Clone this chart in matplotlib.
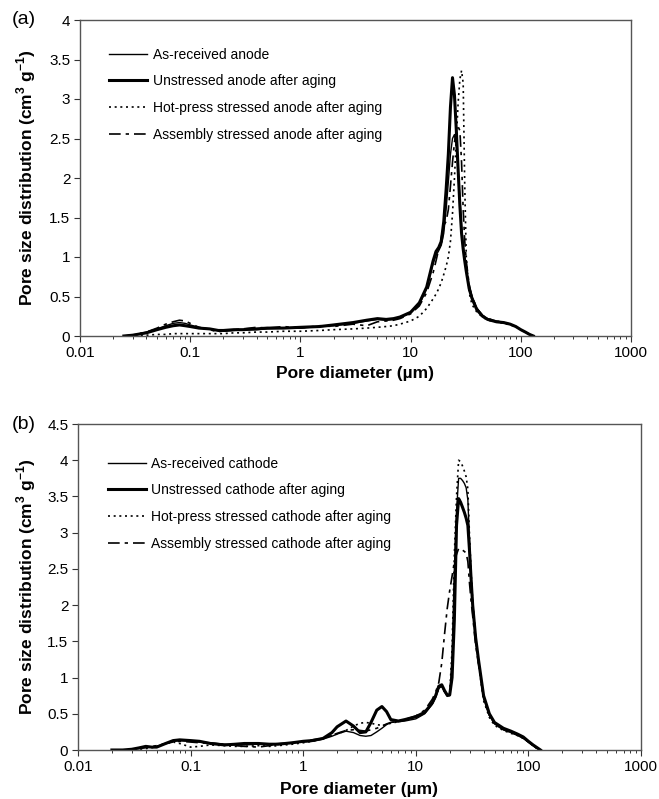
import matplotlib
matplotlib.use("Agg")
import matplotlib.pyplot as plt
from matplotlib.ticker import FuncFormatter, LogLocator, NullFormatter, MultipleLocator

plt.rcParams['font.family'] = ['Liberation Sans', 'DejaVu Sans']

# ---------------- Panel (a): anode ----------------
xa = [0.025, 0.03, 0.04, 0.05, 0.06, 0.07, 0.08, 0.09, 0.1, 0.12, 0.15, 0.18, 0.2, 0.25,
      0.3, 0.4, 0.5, 0.7, 1, 1.5, 2, 3, 4, 5, 6, 7, 8, 10, 12, 14, 16, 17, 18, 19, 20, 21,
      22, 23, 24, 25, 26, 27, 28, 29, 30, 31, 32, 34, 36, 40, 45, 50, 60, 70, 80, 90, 100,
      110, 120, 130]
a_asreceived = [0, 0.01, 0.05, 0.09, 0.13, 0.16, 0.17, 0.16, 0.14, 0.11, 0.09, 0.07, 0.06, 0.07,
                0.08, 0.08, 0.09, 0.10, 0.10, 0.12, 0.13, 0.16, 0.19, 0.21, 0.20, 0.21, 0.23, 0.29,
                0.40, 0.60, 0.92, 1.02, 1.08, 1.15, 1.30, 1.60, 1.95, 2.30, 2.50, 2.55, 2.40, 2.10,
                1.75, 1.40, 1.15, 1.00, 0.86, 0.63, 0.50, 0.35, 0.26, 0.22, 0.19, 0.17, 0.15, 0.12,
                0.08, 0.05, 0.02, 0]
a_unstressed = [0, 0.01, 0.04, 0.08, 0.11, 0.13, 0.14, 0.13, 0.12, 0.10, 0.09, 0.07, 0.07, 0.08,
                0.08, 0.09, 0.10, 0.10, 0.11, 0.12, 0.14, 0.17, 0.20, 0.22, 0.21, 0.22, 0.24, 0.30,
                0.42, 0.62, 0.95, 1.07, 1.12, 1.20, 1.45, 1.85, 2.30, 2.90, 3.27, 3.05, 2.60, 2.10,
                1.65, 1.30, 1.10, 0.95, 0.82, 0.60, 0.48, 0.33, 0.25, 0.21, 0.18, 0.17, 0.15, 0.12,
                0.08, 0.05, 0.02, 0]
a_hotpress = [0, 0, 0.01, 0.02, 0.02, 0.03, 0.03, 0.03, 0.03, 0.03, 0.03, 0.03, 0.03, 0.04,
              0.04, 0.05, 0.05, 0.06, 0.06, 0.07, 0.08, 0.09, 0.10, 0.11, 0.12, 0.13, 0.15, 0.19,
              0.25, 0.35, 0.47, 0.53, 0.60, 0.68, 0.78, 0.88, 1.00, 1.20, 1.55, 2.00, 2.50, 2.95,
              3.25, 3.36, 3.20, 1.90, 1.00, 0.55, 0.40, 0.30, 0.24, 0.20, 0.18, 0.16, 0.14, 0.12,
              0.08, 0.05, 0.02, 0]
a_assembly = [0, 0.01, 0.05, 0.10, 0.15, 0.18, 0.20, 0.19, 0.16, 0.11, 0.08, 0.05, 0.07, 0.08,
              0.09, 0.11, 0.10, 0.12, 0.10, 0.13, 0.12, 0.15, 0.13, 0.18, 0.19, 0.20, 0.22, 0.28,
              0.38, 0.55, 0.80, 0.95, 1.10, 1.25, 1.40, 1.45, 1.60, 1.90, 2.20, 2.45, 2.60, 2.65,
              2.60, 2.20, 1.60, 1.20, 0.95, 0.65, 0.50, 0.35, 0.26, 0.22, 0.19, 0.17, 0.15, 0.12,
              0.08, 0.05, 0.02, 0]
labels_a = ["As-received anode", "Unstressed anode after aging",
            "Hot-press stressed anode after aging", "Assembly stressed anode after aging"]

# ---------------- Panel (b): cathode ----------------
xb = [0.02, 0.025, 0.03, 0.035, 0.04, 0.045, 0.05, 0.06, 0.07, 0.08, 0.1, 0.12, 0.15, 0.2,
      0.25, 0.3, 0.4, 0.5, 0.6, 0.8, 1, 1.2, 1.5, 1.8, 2, 2.4, 2.8, 3.2, 3.6, 4, 4.5, 5, 5.5,
      6, 7, 8, 10, 12, 14, 15, 16, 17, 18, 19, 20, 21, 22, 23, 24, 25, 26, 27, 28, 29, 30, 31,
      32, 34, 36, 40, 45, 50, 60, 70, 80, 90, 100, 110, 120, 128]
b_asreceived = [0, 0, 0.01, 0.02, 0.03, 0.04, 0.05, 0.09, 0.12, 0.13, 0.12, 0.11, 0.10, 0.08,
                0.07, 0.07, 0.08, 0.08, 0.09, 0.10, 0.11, 0.12, 0.15, 0.19, 0.22, 0.26, 0.24, 0.20,
                0.19, 0.20, 0.25, 0.30, 0.35, 0.38, 0.39, 0.40, 0.43, 0.50, 0.63, 0.72, 0.85, 0.88,
                0.80, 0.74, 0.75, 1.30, 2.50, 3.30, 3.75, 3.75, 3.72, 3.68, 3.62, 3.45, 2.90, 2.40,
                2.05, 1.55, 1.25, 0.72, 0.48, 0.36, 0.28, 0.24, 0.20, 0.16, 0.11, 0.06, 0.02, 0]
b_unstressed = [0, 0, 0.01, 0.03, 0.05, 0.04, 0.04, 0.09, 0.13, 0.14, 0.13, 0.12, 0.09, 0.07,
                0.08, 0.09, 0.09, 0.08, 0.08, 0.10, 0.12, 0.13, 0.16, 0.24, 0.32, 0.40, 0.33, 0.24,
                0.25, 0.38, 0.55, 0.60, 0.53, 0.42, 0.40, 0.42, 0.46, 0.52, 0.65, 0.75, 0.88, 0.90,
                0.82, 0.76, 0.76, 1.00, 1.80, 3.10, 3.47, 3.42, 3.35, 3.28, 3.20, 3.10, 2.75, 2.35,
                2.00, 1.55, 1.25, 0.75, 0.50, 0.38, 0.30, 0.26, 0.22, 0.18, 0.12, 0.07, 0.03, 0]
b_hotpress = [0, 0, 0, 0.01, 0.02, 0.03, 0.05, 0.09, 0.11, 0.09, 0.04, 0.05, 0.07, 0.06,
              0.05, 0.05, 0.06, 0.05, 0.06, 0.08, 0.10, 0.12, 0.16, 0.20, 0.22, 0.27, 0.33, 0.37,
              0.38, 0.37, 0.35, 0.34, 0.35, 0.37, 0.39, 0.41, 0.45, 0.52, 0.65, 0.74, 0.85, 0.88,
              0.80, 0.75, 0.77, 1.40, 2.70, 3.50, 4.00, 3.98, 3.92, 3.85, 3.77, 3.60, 2.95, 2.45,
              2.05, 1.55, 1.20, 0.68, 0.45, 0.34, 0.27, 0.23, 0.20, 0.16, 0.11, 0.06, 0.02, 0]
b_assembly = [0, 0, 0.01, 0.03, 0.04, 0.05, 0.06, 0.09, 0.11, 0.12, 0.11, 0.10, 0.09, 0.08,
              0.06, 0.05, 0.04, 0.06, 0.08, 0.10, 0.12, 0.14, 0.16, 0.20, 0.23, 0.27, 0.28, 0.27,
              0.26, 0.28, 0.30, 0.33, 0.36, 0.38, 0.40, 0.42, 0.47, 0.55, 0.70, 0.80, 0.93, 1.20,
              1.60, 1.95, 2.20, 2.40, 2.60, 2.70, 2.78, 2.78, 2.76, 2.74, 2.72, 2.60, 2.30, 2.05,
              1.85, 1.45, 1.20, 0.72, 0.48, 0.36, 0.28, 0.24, 0.21, 0.17, 0.11, 0.06, 0.02, 0]
labels_b = ["As-received cathode", "Unstressed cathode after aging",
            "Hot-press stressed cathode after aging", "Assembly stressed cathode after aging"]

x_ticks = [0.01, 0.1, 1, 10, 100, 1000]
x_ticklabels = ["0.01", "0.1", "1", "10", "100", "1000"]

styles = [dict(color='black', lw=1.0, ls='-'),
          dict(color='black', lw=2.2, ls='-'),
          dict(color='black', lw=1.2, ls=(0, (1.2, 2.2))),
          dict(color='black', lw=1.2, ls=(0, (7, 3, 2, 3)))]

fig = plt.figure(figsize=(6.59, 7.99), dpi=100)
ax_a = fig.add_axes([80/659, 1-336/799, 551/659, 316/799])
ax_b = fig.add_axes([78/659, 1-750/799, 563/659, 326/799])

def style_axes(ax, ymax, xlabel_y, ylab_x):
    ax.set_xscale('log')
    ax.set_xlim(0.01, 1000)
    ax.set_ylim(0, ymax)
    ax.set_xticks(x_ticks)
    ax.set_xticklabels(x_ticklabels)
    ax.xaxis.set_minor_locator(LogLocator(base=10, subs=range(2, 10), numticks=50))
    ax.xaxis.set_minor_formatter(NullFormatter())
    ax.yaxis.set_major_locator(MultipleLocator(0.5))
    ax.yaxis.set_major_formatter(FuncFormatter(lambda v, p: f"{v:g}"))
    ax.tick_params(axis='both', which='major', direction='out', length=4, width=0.8,
                   labelsize=11, colors='#333333', labelcolor='black', pad=3)
    ax.tick_params(axis='x', which='minor', direction='out', length=2.5, width=0.7, colors='#333333')
    for s in ax.spines.values():
        s.set_color('#555555')
        s.set_linewidth(1.0)
    ax.set_xlabel("Pore diameter (µm)", fontsize=12.5, fontweight='bold')
    ax.xaxis.set_label_coords(0.5, xlabel_y)
    ax.set_ylabel("Pore size distribution (cm$^{\\mathregular{3}}$ g$^{\\mathregular{-1}}$)",
                  fontsize=12.5, fontweight='bold')
    ax.yaxis.set_label_coords(ylab_x, 0.5)

series_a = [a_asreceived, a_unstressed, a_hotpress, a_assembly]
for ys, st, lab in zip(series_a, styles, labels_a):
    ax_a.plot(xa, ys, label=lab, **st)
series_b = [b_asreceived, b_unstressed, b_hotpress, b_assembly]
for ys, st, lab in zip(series_b, styles, labels_b):
    ax_b.plot(xb, ys, label=lab, **st)

style_axes(ax_a, 4, -0.094, -0.077)
style_axes(ax_b, 4.5, -0.098, -0.071)

for ax, anchor in ((ax_a, (0.043, 0.93)), (ax_b, (0.043, 0.917))):
    ax.legend(loc='upper left', bbox_to_anchor=anchor, frameon=False, fontsize=10,
              handlelength=2.75, handletextpad=0.38, labelspacing=0.91, borderaxespad=0)

fig.text(12/659, 1-20/799, "(a)", fontsize=14, va='center', ha='left')
fig.text(12/659, 1-424/799, "(b)", fontsize=14, va='center', ha='left')

fig.savefig("out.png", dpi=100)
